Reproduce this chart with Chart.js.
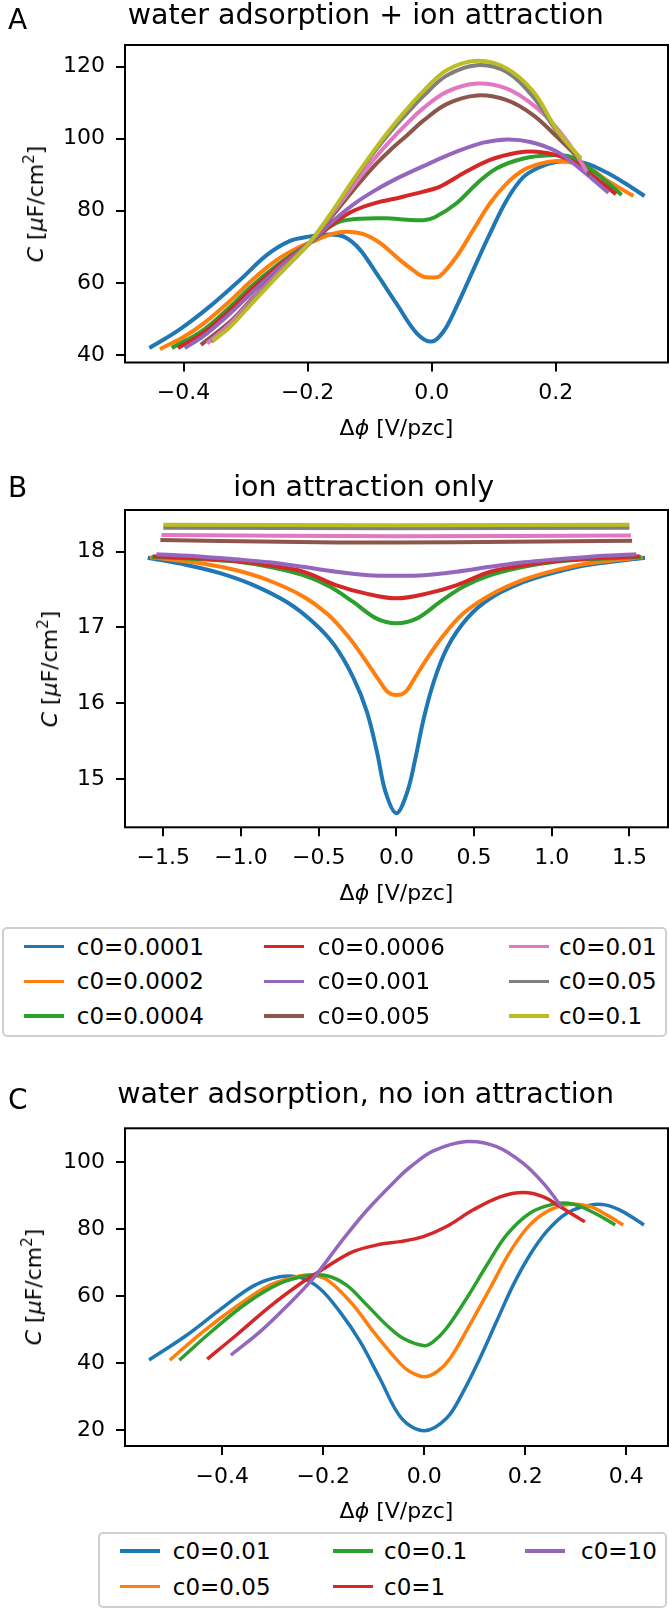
<!DOCTYPE html>
<html>
<head>
<meta charset="utf-8">
<script src="https://cdn.jsdelivr.net/npm/chart.js@4.4.1/dist/chart.umd.min.js"></script>
<style>
  body { margin: 0; background: #fff; }
  #fig { position: relative; width: 669px; height: 1610px; font-family: 'DejaVu Sans'; color: #000; overflow: hidden; font-kerning: none; }
  #fig canvas { position: absolute; left: 0; }
  .txt { position: absolute; white-space: nowrap; line-height: 1; }
  .box { position: absolute; border: 2px solid #cfcfcf; border-radius: 5px; box-sizing: border-box; }
  .hnd { position: absolute; height: 3.5px; }
</style>
</head>
<body>
<div id="fig">
  <canvas id="chartA" width="669" height="420" style="top:0px"></canvas>
  <canvas id="chartB" width="669" height="460" style="top:440px"></canvas>
  <canvas id="chartC" width="669" height="460" style="top:1060px"></canvas>
</div>
<script>
// colores por defecto de matplotlib (tab10)
const tab10 = ['#1f77b4', '#ff7f0e', '#2ca02c', '#d62728', '#9467bd', '#8c564b', '#e377c2', '#7f7f7f', '#bcbd22'];

const labelsTop = ['c0=0.0001', 'c0=0.0002', 'c0=0.0004', 'c0=0.0006', 'c0=0.001', 'c0=0.005', 'c0=0.01', 'c0=0.05', 'c0=0.1'];
const labelsC = ['c0=0.01', 'c0=0.05', 'c0=0.1', 'c0=1', 'c0=10'];

// ticks
const ticksAx = [-0.4, -0.2, 0, 0.2];
const tickLabelsAx = ['\u22120.4', '\u22120.2', '0.0', '0.2'];
const ticksAy = [40, 60, 80, 100, 120];
const ticksBx = [-1.5, -1, -0.5, 0, 0.5, 1, 1.5];
const tickLabelsBx = ['\u22121.5', '\u22121.0', '\u22120.5', '0.0', '0.5', '1.0', '1.5'];
const ticksBy = [15, 16, 17, 18];
const ticksCx = [-0.4, -0.2, 0, 0.2, 0.4];
const tickLabelsCx = ['\u22120.4', '\u22120.2', '0.0', '0.2', '0.4'];
const ticksCy = [20, 40, 60, 80, 100];

// A: water adsorption + ion attraction  [dphi, C]
const A_c0001 = [[-0.455,41.9],[-0.406,47.1],[-0.358,53.4],[-0.309,60.8],[-0.266,67.7],[-0.229,71.6],[-0.196,72.9],[-0.165,73.4],[-0.14,72.7],[-0.116,69.3],[-0.089,62.6],[-0.057,54.3],[-0.024,46.0],[0,43.7],[0.019,46.5],[0.040,53.4],[0.067,63.6],[0.094,73.7],[0.121,83.0],[0.148,89.4],[0.175,92.2],[0.202,93.6],[0.223,93.7],[0.25,93.1],[0.282,90.6],[0.309,87.9],[0.343,84.1]];
const A_c0002 = [[-0.438,41.6],[-0.4,45.0],[-0.368,48.7],[-0.325,55.0],[-0.288,61.0],[-0.25,66.3],[-0.215,69.8],[-0.193,71.4],[-0.16,73.6],[-0.137,74.2],[-0.11,73.5],[-0.083,71.0],[-0.051,66.3],[-0.03,63.5],[-0.0135,61.7],[0,61.5],[0.0134,61.9],[0.040,67.3],[0.067,74.7],[0.094,82.1],[0.121,87.6],[0.148,91.3],[0.175,93.1],[0.202,93.8],[0.228,93.3],[0.255,91.7],[0.282,88.5],[0.325,84.1]];
const A_c0004 = [[-0.419,41.9],[-0.368,46.9],[-0.325,53.3],[-0.288,59.4],[-0.25,64.8],[-0.215,69.0],[-0.193,71.5],[-0.169,75.0],[-0.148,77.0],[-0.116,77.8],[-0.073,77.9],[-0.04,77.5],[-0.0135,77.4],[0.005,78.2],[0.040,82.1],[0.073,87.6],[0.105,91.8],[0.148,94.5],[0.191,95.4],[0.223,95.0],[0.255,91.7],[0.28,88.3],[0.306,84.4]];
const A_c0006 = [[-0.409,41.9],[-0.368,46.1],[-0.325,52.4],[-0.288,58.5],[-0.25,64.2],[-0.215,68.8],[-0.193,71.6],[-0.16,76.3],[-0.126,80.0],[-0.09,82.2],[-0.051,83.7],[-0.0135,85.3],[0.0134,86.7],[0.051,90.4],[0.094,94.1],[0.137,96.1],[0.169,96.4],[0.202,95.4],[0.234,93.1],[0.266,88.9],[0.297,84.6]];
const A_c001 = [[-0.398,41.9],[-0.368,45.2],[-0.325,51.5],[-0.288,57.6],[-0.25,63.6],[-0.215,68.6],[-0.193,71.7],[-0.16,77.0],[-0.126,81.8],[-0.09,85.8],[-0.051,89.4],[-0.0135,92.4],[0.040,96.4],[0.083,98.9],[0.121,99.8],[0.159,99.1],[0.202,96.4],[0.239,91.7],[0.285,85.0]];
const A_c005 = [[-0.372,42.8],[-0.325,49.2],[-0.288,55.9],[-0.25,62.5],[-0.215,68.0],[-0.193,71.8],[-0.16,78.6],[-0.126,85.8],[-0.094,92.2],[-0.067,96.8],[-0.04,100.9],[-0.0135,105.0],[0.024,109.6],[0.073,112.0],[0.121,110.7],[0.164,106.5],[0.202,100.5],[0.234,95.0],[0.255,89.9]];
const A_c01 = [[-0.362,43.2],[-0.325,48.6],[-0.288,55.5],[-0.25,62.3],[-0.215,67.9],[-0.193,71.8],[-0.16,79.2],[-0.126,87.0],[-0.094,94.1],[-0.067,99.4],[-0.04,104.2],[-0.0135,108.5],[0.024,113.0],[0.073,115.3],[0.121,113.9],[0.164,109.3],[0.202,102.9],[0.234,95.4],[0.25,90.8]];
const A_c05 = [[-0.355,43.7],[-0.325,47.9],[-0.288,55.0],[-0.25,61.8],[-0.215,67.8],[-0.193,71.9],[-0.16,79.7],[-0.126,88.4],[-0.094,96.0],[-0.067,101.8],[-0.04,107.0],[-0.0135,111.8],[0.024,117.5],[0.073,120.4],[0.121,118.5],[0.164,111.5],[0.202,102.0],[0.24,94.5]];
const A_c1 = [[-0.353,43.9],[-0.325,47.8],[-0.288,54.6],[-0.25,61.6],[-0.215,67.8],[-0.193,72.0],[-0.16,79.9],[-0.126,88.7],[-0.094,96.5],[-0.067,102.6],[-0.04,108.2],[-0.0135,113.2],[0.024,119.0],[0.073,121.6],[0.121,119.5],[0.164,113.0],[0.202,102.4],[0.24,94.5]];

// B: ion attraction only
const B_c0001 = [[-1.6,17.92],[-1.35,17.825],[-1.13,17.715],[-0.92,17.56],[-0.7,17.33],[-0.53,17.06],[-0.4,16.77],[-0.275,16.33],[-0.19,15.89],[-0.125,15.36],[-0.07,14.83],[0,14.55],[0.07,14.83],[0.122,15.27],[0.176,15.8],[0.24,16.28],[0.326,16.73],[0.455,17.12],[0.605,17.385],[0.82,17.6],[1.034,17.735],[1.25,17.83],[1.6,17.92]];
const B_c0002 = [[-1.585,17.925],[-1.25,17.845],[-1.03,17.755],[-0.82,17.62],[-0.6,17.41],[-0.44,17.17],[-0.31,16.88],[-0.2,16.57],[-0.11,16.3],[-0.055,16.15],[0,16.11],[0.058,16.15],[0.111,16.31],[0.197,16.59],[0.305,16.9],[0.433,17.19],[0.605,17.43],[0.82,17.63],[1.034,17.76],[1.25,17.85],[1.585,17.925]];
const B_c0004 = [[-1.575,17.93],[-1.25,17.9],[-1.03,17.87],[-0.82,17.8],[-0.6,17.69],[-0.43,17.54],[-0.28,17.34],[-0.13,17.12],[0,17.055],[0.133,17.12],[0.283,17.34],[0.433,17.54],[0.605,17.69],[0.819,17.8],[1.034,17.87],[1.248,17.9],[1.575,17.93]];
const B_c0006 = [[-1.565,17.94],[-1.25,17.91],[-1.03,17.877],[-0.82,17.82],[-0.6,17.736],[-0.39,17.56],[-0.2,17.45],[0,17.385],[0.2,17.45],[0.39,17.56],[0.605,17.736],[0.819,17.82],[1.034,17.877],[1.248,17.91],[1.565,17.94]];
const B_c001 = [[-1.544,17.965],[-1.248,17.934],[-1.034,17.9],[-0.819,17.86],[-0.605,17.8],[-0.39,17.736],[-0.176,17.69],[0,17.683],[0.176,17.69],[0.39,17.736],[0.605,17.8],[0.819,17.86],[1.034,17.9],[1.248,17.934],[1.544,17.965]];
const B_c005 = [[-1.519,18.154],[-0.75,18.13],[0,18.12],[0.75,18.13],[1.517,18.145]];
const B_c01 = [[-1.512,18.22],[0,18.205],[1.51,18.215]];
const B_c05 = [[-1.5,18.317],[0,18.31],[1.5,18.317]];
const B_c1 = [[-1.5,18.355],[0,18.35],[1.5,18.355]];

// C: water adsorption, no ion attraction
const C_c001 = [[-0.545,40.9],[-0.47,48.4],[-0.405,55.9],[-0.339,63.0],[-0.286,65.8],[-0.246,65.6],[-0.207,62.3],[-0.167,55.3],[-0.127,46.4],[-0.088,35.4],[-0.045,23.5],[0,19.8],[0.044,23.5],[0.077,31.4],[0.11,41.4],[0.143,52.4],[0.176,63.3],[0.209,72.3],[0.242,79.3],[0.282,84.8],[0.328,87.2],[0.361,87.2],[0.394,85.2],[0.435,81.3]];
const C_c005 = [[-0.504,40.9],[-0.438,49.4],[-0.372,56.9],[-0.306,63.3],[-0.253,65.8],[-0.22,66.3],[-0.187,64.3],[-0.141,57.4],[-0.101,49.4],[-0.048,39.9],[-0.028,37.4],[0,35.9],[0.025,37.4],[0.051,41.4],[0.09,51.4],[0.13,62.3],[0.17,73.3],[0.209,81.3],[0.249,85.8],[0.288,87.5],[0.328,86.8],[0.361,84.3],[0.394,81.3]];
const C_c01 = [[-0.485,40.9],[-0.418,49.9],[-0.352,57.9],[-0.286,63.8],[-0.233,66.1],[-0.193,66.1],[-0.154,63.3],[-0.114,57.4],[-0.075,51.4],[-0.042,47.4],[0,45.2],[0.018,46.4],[0.044,50.4],[0.084,59.4],[0.124,69.3],[0.163,78.3],[0.209,84.8],[0.256,87.5],[0.295,87.5],[0.335,85.0],[0.378,81.3]];
const C_c1 = [[-0.43,41.2],[-0.372,48.4],[-0.306,56.9],[-0.24,64.3],[-0.193,68.8],[-0.141,73.3],[-0.088,75.5],[-0.048,76.3],[-0.002,77.8],[0.044,80.8],[0.097,85.8],[0.15,89.7],[0.196,91.0],[0.236,89.7],[0.275,86.2],[0.318,82.2]];
const C_c10 = [[-0.383,42.4],[-0.325,49.4],[-0.273,56.9],[-0.22,65.3],[-0.167,75.8],[-0.114,85.6],[-0.05,95.6],[-0.028,98.6],[0.018,103.4],[0.084,106.2],[0.143,104.7],[0.196,99.7],[0.236,93.7],[0.272,86.7]];

const seriesA = [A_c0001, A_c0002, A_c0004, A_c0006, A_c001, A_c005, A_c01, A_c05, A_c1];
const seriesB = [B_c0001, B_c0002, B_c0004, B_c0006, B_c001, B_c005, B_c01, B_c05, B_c1];
const seriesC = [C_c001, C_c005, C_c01, C_c1, C_c10];

const fig = document.getElementById('fig');
const FONT = "'DejaVu Sans'";

// marco completo del eje (matplotlib dibuja los 4 lados)
const framePlugin = {
    id: 'frame',
    afterDraw(chart) {
        const { ctx, chartArea: a } = chart;
        ctx.save();
        ctx.lineWidth = 2;
        ctx.strokeStyle = '#000';
        ctx.strokeRect(a.left, a.top, a.right - a.left, a.bottom - a.top);
        ctx.restore();
    }
};

function makePanel(id, canvasTop, area, xr, yr, xt, xl, yt, series, lw) {
    const canvas = document.getElementById(id);
    const YW = 70, XH = 45;
    const tickFont = { family: FONT, size: 22 };
    const n = series.length;
    return new Chart(canvas.getContext('2d'), {
        type: 'scatter',
        data: {
            datasets: series.map((pts, i) => ({
                data: pts.map(p => ({ x: p[0], y: p[1] })),
                showLine: true,
                borderColor: tab10[i],
                borderWidth: lw,
                pointRadius: 0,
                tension: 0.35,
                borderCapStyle: 'butt',
                borderJoinStyle: 'round',
                order: n - i
            }))
        },
        options: {
            responsive: false,
            animation: false,
            devicePixelRatio: 1,
            events: [],
            layout: {
                padding: {
                    left: area.left - YW,
                    top: area.top - canvasTop,
                    right: 669 - area.right,
                    bottom: canvasTop + canvas.height - area.bottom - XH
                }
            },
            plugins: { legend: { display: false }, tooltip: { enabled: false } },
            scales: {
                x: {
                    type: 'linear', min: xr[0], max: xr[1],
                    afterFit: s => { s.height = XH; },
                    afterBuildTicks: s => { s.ticks = xt.map(v => ({ value: v })); },
                    ticks: { callback: (v, i) => xl[i], font: tickFont, color: '#000', padding: 9, maxRotation: 0, autoSkip: false },
                    grid: { display: true, drawOnChartArea: false, drawTicks: true, tickLength: 9, color: '#000', lineWidth: 2 },
                    border: { display: false }
                },
                y: {
                    type: 'linear', min: yr[0], max: yr[1],
                    afterFit: s => { s.width = YW; },
                    afterBuildTicks: s => { s.ticks = yt.map(v => ({ value: v })); },
                    ticks: { callback: v => String(v), font: tickFont, color: '#000', padding: 11, autoSkip: false },
                    grid: { display: true, drawOnChartArea: false, drawTicks: true, tickLength: 9, color: '#000', lineWidth: 2 },
                    border: { display: false }
                }
            }
        },
        plugins: [framePlugin]
    });
}

// texto html posicionado por linea base
function addText(html, x, base, size, align) {
    const d = document.createElement('div');
    d.className = 'txt';
    d.innerHTML = html;
    d.style.fontSize = size + 'px';
    d.style.top = (base - 0.846 * size) + 'px';
    d.style.left = x + 'px';
    if (align === 'center') d.style.transform = 'translateX(-50%)';
    fig.appendChild(d);
    return d;
}

function addYLabel(cx, cy) {
    const d = document.createElement('div');
    d.className = 'txt';
    d.style.fontSize = '22px';
    d.innerHTML = '<i>C</i> [<i>\u03bc</i>F/cm<span style="font-size:15px;position:relative;top:-9px">2</span>]';
    d.style.left = cx + 'px';
    d.style.top = cy + 'px';
    d.style.transform = 'translate(-50%,-50%) rotate(-90deg)';
    fig.appendChild(d);
}

function addLegend(box, hx, tx, rows, labels) {
    const b = document.createElement('div');
    b.className = 'box';
    Object.assign(b.style, { left: box[0] + 'px', top: box[1] + 'px', width: (box[2] - box[0]) + 'px', height: (box[3] - box[1]) + 'px' });
    fig.appendChild(b);
    labels.forEach((lab, i) => {
        const col = Math.floor(i / rows.length), row = i % rows.length;
        const h = document.createElement('div');
        h.className = 'hnd';
        Object.assign(h.style, { left: hx[col] + 'px', top: (rows[row] - 1.75) + 'px', width: '40.5px', background: tab10[i] });
        fig.appendChild(h);
        addText(lab, tx[col], rows[row] + 8.4, 23);
    });
}

makePanel('chartA', 0, { left: 125, top: 45, right: 668, bottom: 362.5 }, [-0.4943, 0.3808], [37.9, 126.0], ticksAx, tickLabelsAx, ticksAy, seriesA, 4);
makePanel('chartB', 440, { left: 125, top: 510, right: 668, bottom: 827.3 }, [-1.7465, 1.748], [14.364, 18.55], ticksBx, tickLabelsBx, ticksBy, seriesB, 4);
makePanel('chartC', 1060, { left: 125, top: 1128.3, right: 668, bottom: 1446 }, [-0.5927, 0.4826], [15.22, 110.17], ticksCx, tickLabelsCx, ticksCy, seriesC, 3.5);

// letras y titulos
addText('A', 8, 30, 28);
addText('water adsorption + ion attraction', 365.8, 25, 28.5, 'center');
addText('B', 8, 498, 28);
addText('ion attraction only', 363.7, 497.3, 28.5, 'center');
addText('C', 8, 1110, 28);
addText('water adsorption, no ion attraction', 365.6, 1104, 28.5, 'center');

// etiquetas de ejes
const xLab = '\u0394<i>\u03d5</i> [V/pzc]';
addText(xLab, 396.5, 435.5, 22, 'center');
addText(xLab, 396.5, 900.5, 22, 'center');
addText(xLab, 396.5, 1519, 22, 'center');
addYLabel(36, 204);
addYLabel(50, 668.5);
addYLabel(34, 1287);

// leyendas
addLegend([2, 927, 667, 1037], [23.5, 263.7, 508.5], [76.8, 317.8, 558.9], [946.7, 981.4, 1016], labelsTop);
addLegend([98, 1532, 667, 1608], [119.5, 332.8, 524.7], [172.8, 384, 581], [1551, 1586.7], labelsC);
</script>
</body>
</html>
